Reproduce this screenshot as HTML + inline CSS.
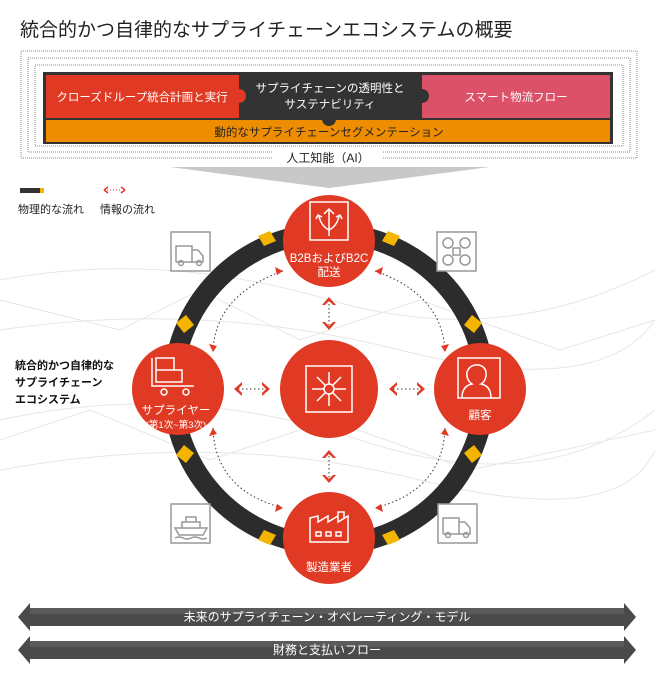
<!DOCTYPE html>
<html><head><meta charset="utf-8"><style>
body{margin:0;background:#fff;width:655px;height:685px;overflow:hidden;font-family:"Liberation Sans","Noto Sans CJK JP",sans-serif}
svg text{font-family:"Liberation Sans","Noto Sans CJK JP",sans-serif}
</style></head><body>
<svg width="655" height="685" viewBox="0 0 655 685" xmlns="http://www.w3.org/2000/svg">
<g stroke="#e4e4e4" stroke-width="1" fill="none" opacity="0.9">
<path d="M0 280 Q160 250 330 300 T655 270"/><path d="M0 330 Q200 300 400 350 T655 320"/>
<path d="M0 420 Q180 380 360 440 T655 410"/><path d="M0 470 Q220 430 420 480 T655 450"/>
<path d="M0 300 L120 330 L200 290 L300 340 L420 300 L560 350 L655 320"/>
<path d="M0 440 L90 410 L210 460 L330 420 L470 470 L655 430"/>
</g>
<text x="20" y="36" font-size="19" fill="#222">統合的かつ自律的なサプライチェーンエコシステムの概要</text>
<rect x="21" y="51" width="616" height="107" fill="none" stroke="#888" stroke-dasharray="1,1"/>
<rect x="28" y="58" width="602" height="94" fill="none" stroke="#888" stroke-dasharray="1,1"/>
<rect x="35" y="65" width="588" height="81" fill="none" stroke="#888" stroke-dasharray="1,1"/>
<rect x="43" y="72" width="570" height="72" fill="#333"/>
<rect x="46" y="75" width="193" height="43" fill="#e03a24"/>
<rect x="422" y="75" width="188" height="43" fill="#dc5068"/>
<rect x="46" y="120" width="564" height="22" fill="#ef8d00"/>
<circle cx="329" cy="119" r="7" fill="#333"/>
<circle cx="239" cy="96" r="7" fill="#e03a24"/>
<circle cx="422" cy="96" r="7" fill="#333"/>
<text x="142" y="101" font-size="11.5" fill="#fff" text-anchor="middle">クローズドループ統合計画と実行</text>
<text x="330" y="92" font-size="11.5" fill="#fff" text-anchor="middle">サプライチェーンの透明性と</text>
<text x="330" y="108" font-size="11.5" fill="#fff" text-anchor="middle">サステナビリティ</text>
<text x="516" y="101" font-size="11.5" fill="#fff" text-anchor="middle">スマート物流フロー</text>
<text x="329" y="136" font-size="11.5" fill="#222" text-anchor="middle">動的なサプライチェーンセグメンテーション</text>
<rect x="272" y="148" width="110" height="18" fill="#fff"/>
<text x="328" y="162" font-size="12" fill="#222" text-anchor="middle">人工知能（AI）</text>
<path d="M170 167 L490 167 L329 188 Z" fill="#c8c8c8"/>
<rect x="20" y="188" width="20" height="5" fill="#333"/><rect x="40" y="188" width="4" height="5" fill="#f4b400"/>
<text x="18" y="213" font-size="11" fill="#222">物理的な流れ</text>
<path d="M104 190 l4 -3 M104 190 l4 3 M125 190 l-4 -3 M125 190 l-4 3" stroke="#e03a24" stroke-width="1.5"/>
<line x1="107" y1="190" x2="122" y2="190" stroke="#e03a24" stroke-dasharray="1,2"/>
<text x="100" y="213" font-size="11" fill="#222">情報の流れ</text>
<text x="15" y="369" font-size="11" font-weight="bold" fill="#111">統合的かつ自律的な</text>
<text x="15" y="386" font-size="11" font-weight="bold" fill="#111">サプライチェーン</text>
<text x="15" y="403" font-size="11" font-weight="bold" fill="#111">エコシステム</text>
<circle cx="329" cy="389" r="156" fill="none" stroke="#2c2c2c" stroke-width="20"/>
<g fill="#f4b400">
<path d="M258 236 l12 -5 l6 10 l-12 5z"/><path d="M400 236 l-12 -5 l-6 10 l12 5z"/>
<path d="M176 323 l10 -8 l8 10 l-10 8z"/><path d="M482 323 l-10 -8 l-8 10 l10 8z"/>
<path d="M176 455 l10 8 l8 -10 l-10 -8z"/><path d="M482 455 l-10 8 l-8 -10 l10 -8z"/>
<path d="M258 540 l12 5 l6 -10 l-12 -5z"/><path d="M400 540 l-12 5 l-6 -10 l12 -5z"/>
</g>
<g fill="none" stroke="#333" stroke-dasharray="1.5,2.5">
<path d="M283 271 Q215 295 213 352"/><path d="M375 271 Q443 295 445 352"/>
<path d="M213 428 Q215 490 283 508"/><path d="M445 428 Q443 490 375 508"/>
<line x1="329" y1="300" x2="329" y2="325"/><line x1="329" y1="452" x2="329" y2="478"/>
<line x1="238" y1="389" x2="265" y2="389"/><line x1="393" y1="389" x2="420" y2="389"/>
</g>
<g fill="#e03a24">
<path d="M322 305 l7 -8 l7 8 l-3 0 l-4 -4 l-4 4z"/><path d="M322 322 l7 8 l7 -8 l-3 0 l-4 4 l-4 -4z"/>
<path d="M322 458 l7 -8 l7 8 l-3 0 l-4 -4 l-4 4z"/><path d="M322 475 l7 8 l7 -8 l-3 0 l-4 4 l-4 -4z"/>
<path d="M242 382 l-8 7 l8 7 l0 -3 l-4 -4 l4 -4z"/><path d="M262 382 l8 7 l-8 7 l0 -3 l4 -4 l-4 -4z"/>
<path d="M397 382 l-8 7 l8 7 l0 -3 l-4 -4 l4 -4z"/><path d="M417 382 l8 7 l-8 7 l0 -3 l4 -4 l-4 -4z"/>
<path d="M283 271 l-8 -4 l2 8z"/><path d="M375 271 l8 -4 l-2 8z"/><path d="M213 352 l-4 -8 l8 2z"/><path d="M445 352 l4 -8 l-8 2z"/>
<path d="M213 428 l-4 8 l8 -2z"/><path d="M445 428 l4 8 l-8 -2z"/><path d="M283 508 l-8 4 l2 -8z"/><path d="M375 508 l8 4 l-2 -8z"/>
</g>
<g fill="#e03a24">
<circle cx="329" cy="241" r="46"/><circle cx="178" cy="389" r="46"/><circle cx="480" cy="389" r="46"/><circle cx="329" cy="538" r="46"/><circle cx="329" cy="389" r="49"/>
</g>
<g fill="none" stroke="#fff" stroke-width="1.5">
<rect x="310" y="202" width="38" height="38"/><path d="M329 236 V210 M324 214 l5 -5 l5 5 M329 230 q-8 -4 -10 -14 M329 230 q8 -4 10 -14 M316 219 l2 -4 l4 2 M342 219 l-2 -4 l-4 2"/>
<rect x="306" y="366" width="46" height="46"/><circle cx="329" cy="389" r="5"/>
<path d="M329 384 V372 M329 394 V406 M324 389 H312 M334 389 H346 M325 385 l-8 -8 M333 393 l8 8 M333 385 l8 -8 M325 393 l-8 8"/>
<rect x="458" y="358" width="42" height="40"/><path d="M462 398 q0 -12 10 -14 q-6 -4 -5 -12 q3 -8 12 -7 q8 2 7 11 q-1 6 -5 8 q10 2 10 14"/>
<path d="M156 358 h18 v12 h-18z M156 370 h26 v12 h-26z M152 358 v28 h42"/><circle cx="164" cy="392" r="3"/><circle cx="186" cy="392" r="3"/>
<path d="M310 518 v24 h38 v-26 l-10 6 v-6 l-10 6 v-6 l-10 6 v-6z M338 518 v-6 h6 v6"/>
<rect x="316" y="532" width="5" height="4"/><rect x="326" y="532" width="5" height="4"/><rect x="336" y="532" width="5" height="4"/>
</g>
<g fill="#fff" text-anchor="middle" font-size="11.5">
<text x="329" y="262">B2BおよびB2C</text><text x="329" y="276">配送</text>
<text x="176" y="414">サプライヤー</text><text x="176" y="428" font-size="9.5">(第1次~第3次)</text>
<text x="480" y="419">顧客</text>
<text x="329" y="571">製造業者</text>
</g>
<g fill="#fff" stroke="#999" stroke-width="1.5">
<rect x="171" y="232" width="39" height="39"/><rect x="437" y="232" width="39" height="39"/>
<rect x="171" y="504" width="39" height="39"/><rect x="438" y="504" width="39" height="39"/>
</g>
<g fill="none" stroke="#999" stroke-width="1.5">
<path d="M176 262 v-16 h16 v16 M192 250 h6 l5 6 v6 h-27"/><circle cx="181" cy="263" r="2.5"/><circle cx="199" cy="263" r="2.5"/>
<path d="M443 534 v-16 h16 v16 M459 522 h6 l5 6 v6 h-27"/><circle cx="448" cy="535" r="2.5"/><circle cx="466" cy="535" r="2.5"/>
<circle cx="448" cy="243" r="5"/><circle cx="465" cy="243" r="5"/><circle cx="448" cy="260" r="5"/><circle cx="465" cy="260" r="5"/><rect x="453" y="248" width="7" height="7"/>
<path d="M175 528 h32 l-4 7 h-24z M182 528 v-6 h18 v6 M186 522 v-5 h10 v5 M175 538 q4 -2 8 0 t8 0 t8 0 t8 0"/>
</g>
<g fill="#4a4a4a">
<path d="M18 617 L30 603 V608 H624 V603 L636 617 L624 631 V626 H30 V631 Z"/>
<path d="M18 650 L30 636 V641 H624 V636 L636 650 L624 664 V659 H30 V664 Z"/>
</g>
<rect x="30" y="608" width="594" height="6" fill="#5a5a5a"/><rect x="30" y="641" width="594" height="6" fill="#5a5a5a"/>
<text x="327" y="621" font-size="12" fill="#fff" text-anchor="middle">未来のサプライチェーン・オペレーティング・モデル</text>
<text x="327" y="654" font-size="12" fill="#fff" text-anchor="middle">財務と支払いフロー</text>
</svg>
</body></html>
